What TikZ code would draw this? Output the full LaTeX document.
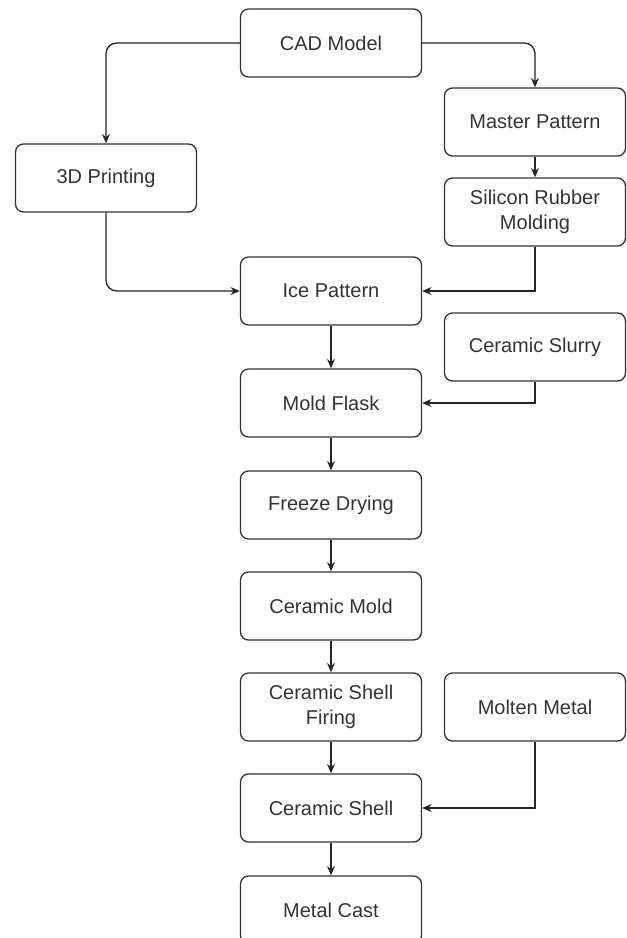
\documentclass[tikz,border=0pt]{standalone}
\usepackage{fontspec}
\setmainfont{Liberation Sans}
\usetikzlibrary{arrows.meta}

\begin{document}
\begin{tikzpicture}[x=0.75pt, y=-0.75pt,
    every node/.style={font=\fontsize{15}{18.75}\selectfont, text=black!80},
    stage/.style={draw=black!80, line width=1pt, rounded corners=6pt, align=center,
                  minimum width=135.75pt, minimum height=51pt, inner sep=2pt},
    conn/.style={draw=black!85, line width=1pt, -{Stealth[length=7pt, width=6pt]}}]
    \useasboundingbox (0,0) rectangle (626,938);

    % Pattern making
    \node[stage] (cad)      at (331,43)  {CAD Model};
    \node[stage] (print)    at (106,178) {3D Printing};
    \node[stage] (master)   at (535,122) {Master Pattern};
    \node[stage] (silicon)  at (535,212) {Silicon Rubber\\Molding};
    \node[stage] (ice)      at (331,291) {Ice Pattern};

    % Mold making
    \node[stage] (slurry)   at (535,347) {Ceramic Slurry};
    \node[stage] (flask)    at (331,403) {Mold Flask};
    \node[stage] (freeze)   at (331,505) {Freeze Drying};
    \node[stage] (cmold)    at (331,606) {Ceramic Mold};
    \node[stage] (firing)   at (331,707) {Ceramic Shell\\Firing};

    % Casting
    \node[stage] (molten)   at (535,707) {Molten Metal};
    \node[stage] (shell)    at (331,808) {Ceramic Shell};
    \node[stage] (cast)     at (331,910) {Metal Cast};

    % Branches from the CAD model
    \draw[conn, rounded corners=8pt] (cad.west) -| (print.north);
    \draw[conn, rounded corners=8pt] (cad.east) -| (master.north);
    \draw[conn] (master) -- (silicon);
    \draw[conn, rounded corners=8pt] (print.south) |- (ice.west);
    \draw[conn] (silicon.south) |- (ice.east);

    % Main line
    \draw[conn] (ice) -- (flask);
    \draw[conn] (slurry.south) |- (flask.east);
    \draw[conn] (flask) -- (freeze);
    \draw[conn] (freeze) -- (cmold);
    \draw[conn] (cmold) -- (firing);
    \draw[conn] (firing) -- (shell);
    \draw[conn] (molten.south) |- (shell.east);
    \draw[conn] (shell) -- (cast);
\end{tikzpicture}
\end{document}
